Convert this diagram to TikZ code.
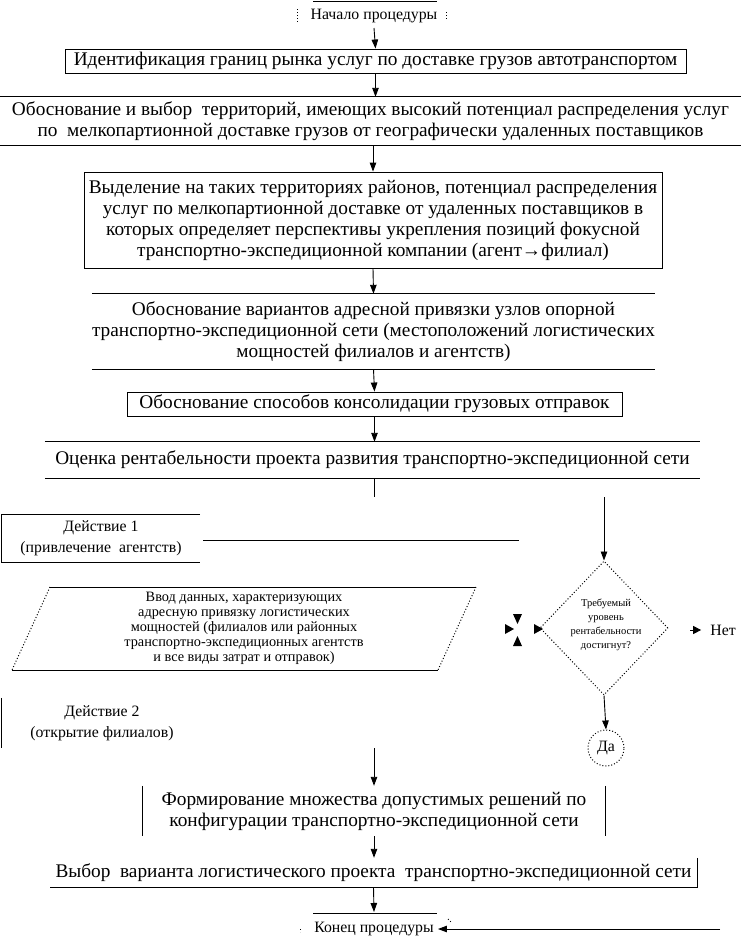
\documentclass[tikz,border=0pt]{standalone}
\usepackage{fontspec}
\setmainfont{Liberation Serif}
\usetikzlibrary{arrows.meta,shapes.geometric}
\tikzset{
  ln/.style={line width=0.9pt},
  arr/.style={line width=0.9pt,-{Triangle[width=6.5pt,length=9pt]}},
  tip/.style={line width=0.9pt,-{Triangle[width=8pt,length=8pt]}},
  dots/.style={line width=1pt,dotted},
  big/.style={font=\fontsize{19.3}{21}\selectfont,align=center,inner sep=0pt},
  mid/.style={font=\fontsize{15.8}{21}\selectfont,align=center,inner sep=0pt},
  sml/.style={font=\fontsize{14.3}{15}\selectfont,align=center,inner sep=0pt},
  tiny/.style={font=\fontsize{10.5}{14}\selectfont,align=center,inner sep=0pt},
}
\begin{document}
\begin{tikzpicture}[x=1pt,y=-1pt]
\useasboundingbox[fill=white] (0,0) rectangle (741,945);
% start
\node[mid] (start) at (374,16) {Начало процедуры};
\draw[ln] (313,1) -- (437,1);
\draw[dots] (297,9) -- (297,22);
\draw[dots] (446,12) -- (446,19);
\coordinate (startb) at (374,28);
% 1
\node[big,draw,line width=0.9pt,minimum width=621pt,minimum height=24pt] (ident) at (375.5,61) {Идентификация границ рынка услуг по доставке грузов автотранспортом};
\draw[arr] (startb) -- (ident.north);
% 2
\node[big,minimum width=741pt,minimum height=48pt] (terr) at (370.5,121) {Обоснование и выбор\ \ территорий, имеющих высокий потенциал распределения услуг\\по\ \ мелкопартионной доставке грузов от географически удаленных поставщиков};
\draw[ln] (terr.north west) -- (terr.north east);
\draw[ln] (terr.south west) -- (terr.south east);
\draw[arr] (ident.south) -- (ident.south |- terr.north);
% 3
\node[big,draw,line width=0.9pt,minimum width=578pt,minimum height=96pt] (dist) at (373,220) {Выделение на таких территориях районов, потенциал распределения\\услуг по мелкопартионной доставке от удаленных поставщиков в\\которых определяет перспективы укрепления позиций фокусной\\транспортно-экспедиционной компании (агент→филиал)};
\draw[arr] (dist.north |- terr.south) -- (dist.north);
% 4
\node[big,minimum width=561pt,minimum height=75pt] (addr) at (373.5,331.5) {Обоснование вариантов адресной привязки узлов опорной\\транспортно-экспедиционной сети (местоположений логистических\\мощностей филиалов и агентств)};
\draw[ln] (addr.north west) -- (addr.north east);
\draw[ln] (addr.south west) -- (addr.south east);
\draw[arr] (dist.south) -- (addr.north);
% 5
\node[big,draw,line width=0.9pt,minimum width=495pt,minimum height=24pt] (cons) at (374.5,404) {Обоснование способов консолидации грузовых отправок};
\draw[arr] (addr.south) -- (cons.north);
% 6
\node[big,minimum width=655pt,minimum height=36pt] (prof) at (372.5,460) {Оценка рентабельности проекта развития транспортно-экспедиционной сети};
\draw[ln] (prof.north west) -- (prof.north east);
\draw[ln] (prof.south west) -- (prof.south east);
\draw[arr] (cons.south) -- (cons.south |- prof.north);
\coordinate (profb) at (374,497);
\draw[ln] (374,478) -- (profb);
% act 1
\node[mid,minimum width=198pt,minimum height=47pt] (act1) at (101,538.5) {Действие 1\\(привлечение\ \ агентств)};
\draw[ln] (act1.north east) -- (act1.north west) -- (act1.south west) -- (act1.south east);
\coordinate (a1r) at (519,540);
\draw[ln] (203,540) -- (a1r);
% diamond
\node[draw,dotted,line width=1pt,diamond,aspect=1,minimum width=128pt,minimum height=134pt,inner sep=0pt] (dec) at (604,628) {};
\node[tiny] (dectxt) at (606,625) {Требуемый\\уровень\\рентабельности\\достигнут?};
\coordinate (dectop) at (604,497);
\draw[arr] (dectop) -- (dec.north);
% no
\node[mid] (no) at (723,630) {Нет};
\draw[dots] (741,622) -- (741,638);
\coordinate (noarr) at (690,630);
\draw[tip,shorten >=9pt] (noarr) -- (no.west);
% left arrow to diamond & four-arrow sign
\fill (534,624) -- (543,629) -- (534,634) -- cycle;
\fill (505,624) -- (514,629) -- (505,634) -- cycle;
\fill (513,614) -- (522,614) -- (517.5,624) -- cycle;
\fill (513,646) -- (522,646) -- (517.5,636) -- cycle;
% input parallelogram
\node[sml,minimum width=426pt,minimum height=83pt] (inp) at (244,628.5) {Ввод данных, характеризующих\\адресную привязку логистических\\мощностей (филиалов или районных\\транспортно-экспедиционных агентств\\и все виды затрат и отправок)};
\draw[ln] (50,587) -- (476,587);
\draw[ln] (12,670) -- (438,670);
\draw[dots] (50,587) -- (12,670);
\draw[dots] (476,587) -- (438,670);
% act 2
\node[mid,minimum width=200pt,minimum height=50pt] (act2) at (102,723) {Действие 2\\(открытие филиалов)};
\draw[ln] (act2.north west) -- (act2.south west);
% yes
\node[mid,draw,dotted,line width=1pt,circle,minimum size=36pt] (yes) at (606,748) {Да};
\draw[arr] (dec.south) -- (yes.north);
% form
\coordinate (formtop) at (374,748);
\node[big,minimum width=462pt,minimum height=50pt] (form) at (374,811) {Формирование множества допустимых решений по\\конфигурации транспортно-экспедиционной сети};
\draw[ln] (form.north west) -- (form.south west);
\draw[ln] (form.north east) -- (form.south east);
\draw[arr] (formtop) -- (form.north);
% choice
\node[big,minimum width=647pt,minimum height=29pt] (choice) at (373.5,872.5) {Выбор\ \ варианта логистического проекта\ \ транспортно-экспедиционной сети};
\draw[ln] (choice.north east) -- (choice.south east) -- (choice.south west);
\draw[arr] (form.south) -- (form.south |- choice.north);
% end
\node[mid] (end) at (374,929) {Конец процедуры};
\draw[ln] (313,913) -- (437,913);
\draw[dots] (448,919) -- (452,923);
\draw[dots] (300,929) -- (300,932);
\draw[arr] (choice.south) -- (374,912);
\coordinate (endr) at (720,929);
\draw[arr,shorten >=4pt] (endr) -- (end.east);
\end{tikzpicture}
\end{document}
